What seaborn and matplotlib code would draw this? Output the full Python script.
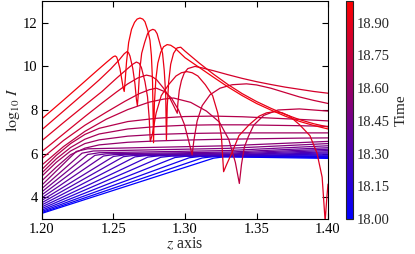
import numpy as np
import pandas as pd
import matplotlib
matplotlib.use('Agg')
import matplotlib.pyplot as plt
import seaborn as sns
from matplotlib.colors import LinearSegmentedColormap, Normalize
from matplotlib.cm import ScalarMappable

# Tiempo de cada curva (de azul a rojo)
times = [18.00, 18.04, 18.08, 18.12, 18.17, 18.21, 18.25, 18.29, 18.33, 18.37, 18.41, 18.45,
         18.50, 18.54, 18.58, 18.62, 18.66, 18.70, 18.74, 18.78, 18.83, 18.87, 18.91, 18.95]

# Curvas azules: suben en linea recta y se doblan cerca de 6
blue_start = [3.26, 3.30, 3.35, 3.41, 3.48, 3.56, 3.65, 3.75, 3.86, 3.98, 4.11, 4.25, 4.40, 4.56]
blue_knee_z = [1.320, 1.312, 1.303, 1.293, 1.283, 1.274, 1.265, 1.257, 1.250, 1.243, 1.237, 1.232, 1.228, 1.224]
blue_knee_v = [5.79, 5.80, 5.81, 5.82, 5.83, 5.84, 5.85, 5.86, 5.87, 5.89, 5.92, 5.96, 6.02, 6.10]
blue_bend_z = [1.327, 1.320, 1.311, 1.301, 1.291, 1.282, 1.273, 1.265, 1.258, 1.251, 1.245, 1.240, 1.236, 1.232]
blue_bend_v = [5.85, 5.86, 5.87, 5.88, 5.89, 5.90, 5.91, 5.92, 5.94, 5.96, 5.99, 6.04, 6.12, 6.22]
blue_flat_z = 1.33
blue_flat_v = [5.85, 5.86, 5.87, 5.88, 5.89, 5.91, 5.93, 5.95, 5.98, 6.02, 6.07, 6.14, 6.24, 6.36]
blue_end = [5.78, 5.82, 5.86, 5.90, 5.94, 5.98, 6.03, 6.08, 6.14, 6.20, 6.27, 6.36, 6.46, 6.56]

# Curvas moradas (suaves)
purple_z = [1.20, 1.21, 1.22, 1.23, 1.24, 1.26, 1.28, 1.30, 1.32, 1.34, 1.36, 1.38, 1.40]
purple_14 = [4.76, 5.38, 5.95, 6.25, 6.40, 6.52, 6.58, 6.62, 6.65, 6.67, 6.69, 6.71, 6.72]
purple_15 = [4.97, 5.60, 6.12, 6.46, 6.63, 6.80, 6.88, 6.92, 6.94, 6.95, 6.95, 6.95, 6.95]
purple_16 = [5.12, 5.76, 6.28, 6.66, 6.90, 7.13, 7.24, 7.30, 7.32, 7.32, 7.30, 7.28, 7.25]
purple_17 = [5.28, 5.92, 6.46, 6.88, 7.16, 7.47, 7.62, 7.70, 7.72, 7.69, 7.63, 7.57, 7.50]

# Curvas rojas con lobulos
red_18_z = [1.200, 1.215, 1.230, 1.245, 1.260, 1.275, 1.285, 1.292, 1.304, 1.315, 1.324, 1.3306,
            1.3352, 1.338, 1.3395, 1.3415, 1.3443, 1.348, 1.355, 1.365, 1.380, 1.390, 1.400]
red_18_v = [5.48, 6.32, 7.02, 7.58, 8.02, 8.36, 8.50, 8.55, 8.35, 7.95, 7.45, 6.65,
            5.60, 4.63, 5.50, 6.30, 6.78, 7.30, 7.75, 8.00, 8.05, 8.00, 7.95]

red_19_z = [1.200, 1.215, 1.230, 1.245, 1.258, 1.268, 1.275, 1.280, 1.2855, 1.2905, 1.2955, 1.2995,
            1.3025, 1.305, 1.3062, 1.3085, 1.312, 1.3175, 1.3245, 1.333, 1.343, 1.350, 1.360,
            1.370, 1.380, 1.390, 1.400]
red_19_v = [5.78, 6.60, 7.30, 7.90, 8.40, 8.75, 8.93, 9.00, 8.85, 8.55, 8.00, 7.35,
            6.60, 5.94, 6.60, 7.50, 8.20, 8.70, 9.00, 9.16, 9.20, 9.15, 9.00,
            8.80, 8.60, 8.44, 8.30]

red_20_z = [1.200, 1.215, 1.230, 1.242, 1.252, 1.260, 1.267, 1.273, 1.2765, 1.280, 1.285, 1.289,
            1.292, 1.2946, 1.2950, 1.2960, 1.2975, 1.2995, 1.3020, 1.3070, 1.3120, 1.320, 1.330,
            1.340, 1.350, 1.360, 1.370, 1.380, 1.390, 1.400]
red_20_v = [6.10, 6.90, 7.70, 8.32, 8.82, 9.20, 9.47, 9.60, 9.55, 9.40, 9.00, 8.60,
            8.20, 7.85, 8.30, 8.90, 9.35, 9.70, 9.90, 10.00, 9.93, 9.80, 9.62,
            9.45, 9.30, 9.17, 9.05, 8.95, 8.85, 8.77]

red_21_z = [1.200, 1.215, 1.230, 1.242, 1.252, 1.259, 1.2635, 1.266, 1.268, 1.2695, 1.2720, 1.2738,
            1.2750, 1.2757, 1.2772, 1.2798, 1.2834, 1.2885, 1.2937, 1.2975, 1.3013, 1.3050, 1.3090,
            1.3142, 1.3193, 1.3229, 1.3255, 1.3270, 1.3291, 1.3327, 1.3377, 1.3448, 1.3519, 1.3570,
            1.3625, 1.3680, 1.3731, 1.3802, 1.3874, 1.3923, 1.3959, 1.3980, 1.3992, 1.4000]
red_21_v = [6.60, 7.42, 8.22, 8.85, 9.45, 9.85, 10.10, 10.20, 10.14, 9.95, 9.30, 8.60,
            7.60, 6.55, 6.90, 7.86, 8.66, 9.16, 9.56, 9.71, 9.76, 9.71, 9.56,
            9.16, 8.66, 7.86, 6.76, 5.17, 5.50, 6.02, 6.82, 7.32, 7.72, 7.87,
            7.92, 7.87, 7.72, 7.32, 6.82, 6.02, 4.92, 2.90, 4.00, 4.60]

red_22_z = [1.200, 1.215, 1.230, 1.240, 1.248, 1.254, 1.2575, 1.2595, 1.2605, 1.2615, 1.2635, 1.2650,
            1.2660, 1.2667, 1.2673, 1.2683, 1.2697, 1.2718, 1.2738, 1.2755, 1.2775, 1.2790, 1.2805,
            1.2822, 1.2843, 1.2855, 1.2865, 1.2870, 1.2876, 1.2886, 1.2900, 1.2920, 1.2945, 1.2970,
            1.300, 1.310, 1.320, 1.330, 1.340, 1.350, 1.360, 1.370, 1.380, 1.390, 1.400]
red_22_v = [7.10, 7.95, 8.80, 9.38, 9.88, 10.30, 10.58, 10.68, 10.63, 10.48, 9.90, 9.20,
            8.50, 8.20, 8.70, 9.80, 10.60, 11.10, 11.50, 11.64, 11.70, 11.66, 11.50,
            11.10, 10.60, 9.80, 8.70, 6.62, 8.20, 9.30, 10.10, 10.60, 10.85, 10.88,
            10.70, 10.15, 9.64, 9.17, 8.75, 8.39, 8.08, 7.80, 7.56, 7.37, 7.22]

red_23_z = [1.200, 1.215, 1.228, 1.238, 1.245, 1.249, 1.2500, 1.2512, 1.2522, 1.2530, 1.2545, 1.2558,
            1.2568, 1.2575, 1.2581, 1.2591, 1.2606, 1.2626, 1.2647, 1.2665, 1.2685, 1.2705, 1.2720,
            1.2740, 1.2755, 1.2765, 1.2773, 1.2780, 1.2786, 1.2796, 1.2810, 1.2830, 1.2850, 1.2875,
            1.2900, 1.2930, 1.2965, 1.300, 1.310, 1.320, 1.330, 1.340, 1.350, 1.360, 1.370, 1.380,
            1.390, 1.400]
red_23_v = [7.60, 8.45, 9.20, 9.78, 10.18, 10.40, 10.45, 10.48, 10.43, 10.28, 9.90, 9.40,
            9.00, 8.85, 9.30, 10.20, 11.10, 11.70, 12.02, 12.17, 12.22, 12.17, 12.05,
            11.65, 11.20, 10.50, 9.30, 6.50, 8.30, 9.40, 10.15, 10.65, 10.90, 11.00,
            10.97, 10.84, 10.62, 10.40, 9.95, 9.50, 9.06, 8.66, 8.30, 8.00, 7.72, 7.48,
            7.29, 7.13]

cbar_ticks = [18.00, 18.15, 18.30, 18.45, 18.60, 18.75, 18.90]
x_ticks = [1.20, 1.25, 1.30, 1.35, 1.40]
y_ticks = [4, 6, 8, 10, 12]

# Armar la tabla larga
rows = []
for i in range(len(blue_start)):
    zs = [1.20, blue_knee_z[i], blue_bend_z[i], blue_flat_z, 1.40]
    vs = [blue_start[i], blue_knee_v[i], blue_bend_v[i], blue_flat_v[i], blue_end[i]]
    for z, v in zip(zs, vs):
        rows.append((i, times[i], z, v))

purples = [purple_14, purple_15, purple_16, purple_17]
for k, vs in enumerate(purples):
    i = 14 + k
    for z, v in zip(purple_z, vs):
        rows.append((i, times[i], z, v))

reds = [(red_18_z, red_18_v), (red_19_z, red_19_v), (red_20_z, red_20_v),
        (red_21_z, red_21_v), (red_22_z, red_22_v), (red_23_z, red_23_v)]
for k, (zs, vs) in enumerate(reds):
    i = 18 + k
    for z, v in zip(zs, vs):
        rows.append((i, times[i], z, v))

df = pd.DataFrame(rows, columns=['curve', 'time', 'z', 'logI'])

sns.set_theme(style='ticks')
plt.rcParams['font.family'] = ['Liberation Serif', 'DejaVu Serif']
plt.rcParams['mathtext.fontset'] = 'stix'

cmap = LinearSegmentedColormap.from_list('blue_red', ['#0000ff', '#ff0000'])
norm = Normalize(vmin=18.0, vmax=19.0)

fig = plt.figure(figsize=(4.15, 2.54), dpi=100)
ax = fig.add_axes([42 / 415, 35 / 254, 286 / 415, 218 / 254])

sns.lineplot(data=df, x='z', y='logI', hue='time', units='curve', estimator=None,
             sort=False, palette=cmap, hue_norm=(18.0, 19.0), legend=False,
             linewidth=0.9, ax=ax)

ax.set_xlim(1.20, 1.40)
ax.set_ylim(3, 13)
ax.set_xticks(x_ticks)
ax.set_xticklabels([f'{t:.2f}' for t in x_ticks])
ax.set_yticks(y_ticks)
ax.tick_params(direction='in', length=4, width=0.8, top=True, right=True,
               labelsize=10.5, pad=3, colors='black')
for s in ax.spines.values():
    s.set_linewidth(0.8)
    s.set_color('black')
ax.set_xlabel(r'$z$ axis', fontsize=11.5, labelpad=0)
ax.set_ylabel(r'$\log_{10}\, I$', fontsize=11.5, labelpad=1)

# Barra de color
cax = fig.add_axes([346 / 415, 35 / 254, 7 / 415, 218 / 254])
sm = ScalarMappable(norm=norm, cmap=cmap)
cbar = fig.colorbar(sm, cax=cax, ticks=cbar_ticks)
cbar.ax.set_yticklabels([f'{t:.2f}' for t in cbar_ticks])
cbar.ax.tick_params(direction='in', length=5, width=0.8, labelsize=10.5, pad=3)
cbar.outline.set_linewidth(0.8)
cbar.set_label('Time', fontsize=11, labelpad=3)

fig.savefig('out.png', dpi=100, facecolor='white')
